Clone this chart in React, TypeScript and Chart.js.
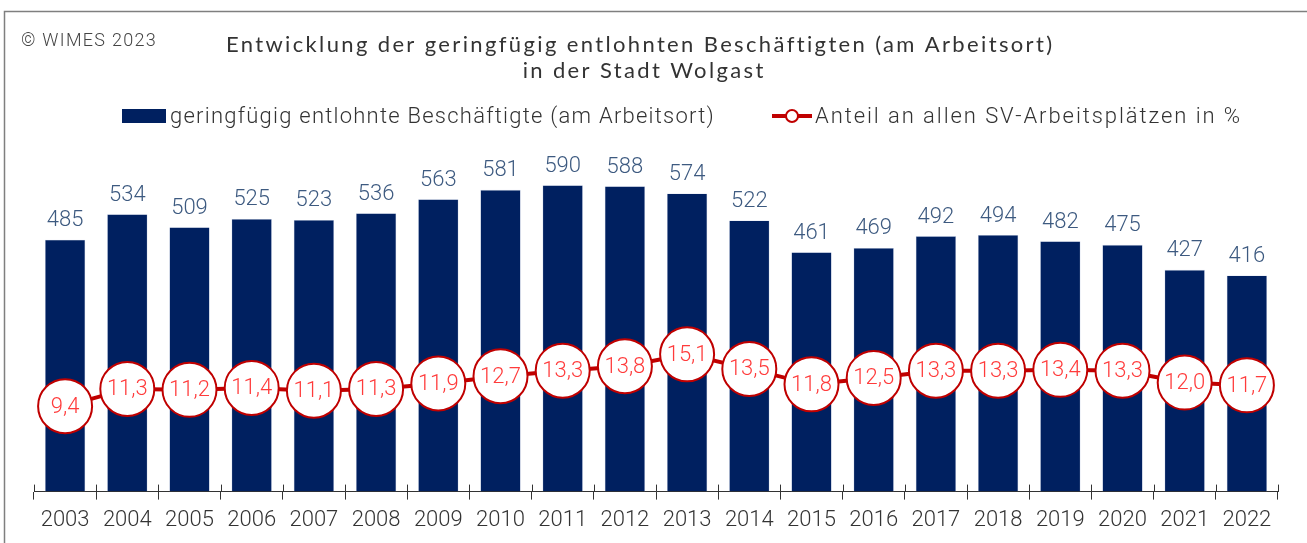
import React, { useEffect, useRef } from "react";
import { Chart, registerables } from "chart.js";

Chart.register(...registerables);

const years = ["2003","2004","2005","2006","2007","2008","2009","2010","2011","2012","2013","2014","2015","2016","2017","2018","2019","2020","2021","2022"];
const employees = [485,534,509,525,523,536,563,581,590,588,574,522,461,469,492,494,482,475,427,416];
const shares = [9.4,11.3,11.2,11.4,11.1,11.3,11.9,12.7,13.3,13.8,15.1,13.5,11.8,12.5,13.3,13.3,13.4,13.3,12.0,11.7];

const titleLines = ["Entwicklung der geringfügig entlohnten Beschäftigten (am Arbeitsort)", "in der Stadt Wolgast"];
const copyright = "© WIMES 2023";
const barLabel = "geringfügig entlohnte Beschäftigte (am Arbeitsort)";
const lineLabel = "Anteil an allen SV-Arbeitsplätzen in %";

const NAVY = "#002060";
const RED = "#c00000";
const TEXT = "#333333";
const LABEL_FONT = "Roboto, 'Noto Sans', sans-serif";
const TITLE_FONT = "Lato, 'Noto Sans', sans-serif";

function spacingFor(ctx: any, text: string, target: number) {
  ctx.letterSpacing = "0px";
  const w = ctx.measureText(text).width;
  return Math.max(-1, (target - w) / text.length);
}

function drawSpaced(ctx: any, text: string, x: number, y: number, sp: number, align: "left" | "center") {
  ctx.letterSpacing = `${sp}px`;
  const w = ctx.measureText(text).width - sp;
  ctx.textAlign = "left";
  const startX = align === "center" ? x - w / 2 : x;
  ctx.fillText(text, startX, y);
  ctx.letterSpacing = "0px";
}

const decoPlugin = {
  id: "deco",
  beforeDraw(chart: any) {
    const ctx = chart.ctx;
    ctx.save();
    ctx.strokeStyle = "#7f7f7f";
    ctx.lineWidth = 1.5;
    ctx.strokeRect(4.5, 11.5, chart.width + 20, chart.height + 20);
    ctx.restore();
  },
  afterDraw(chart: any) {
    const ctx = chart.ctx;
    ctx.save();
    ctx.textBaseline = "middle";
    // copyright
    ctx.fillStyle = "#444444";
    ctx.font = `300 18px ${LABEL_FONT}`;
    drawSpaced(ctx, copyright, 21, 41, spacingFor(ctx, copyright, 136), "left");
    // title
    ctx.fillStyle = TEXT;
    ctx.font = `400 22px ${TITLE_FONT}`;
    const tsp = spacingFor(ctx, titleLines[0], 828);
    drawSpaced(ctx, titleLines[0], 639, 45, tsp, "center");
    drawSpaced(ctx, titleLines[1], 643, 71, tsp, "center");
    // legend
    ctx.fillStyle = NAVY;
    ctx.fillRect(122, 109, 44, 14);
    ctx.fillStyle = TEXT;
    ctx.font = `300 22px ${LABEL_FONT}`;
    drawSpaced(ctx, barLabel, 170, 117, spacingFor(ctx, barLabel, 545), "left");
    ctx.strokeStyle = RED;
    ctx.lineWidth = 4;
    ctx.beginPath();
    ctx.moveTo(772, 116);
    ctx.lineTo(812, 116);
    ctx.stroke();
    ctx.beginPath();
    ctx.arc(792, 116, 6, 0, Math.PI * 2);
    ctx.fillStyle = "#ffffff";
    ctx.fill();
    ctx.lineWidth = 2;
    ctx.stroke();
    ctx.fillStyle = TEXT;
    drawSpaced(ctx, lineLabel, 815, 117, spacingFor(ctx, lineLabel, 427), "left");
    // x-axis tick marks crossing axis
    const area = chart.chartArea;
    ctx.strokeStyle = TEXT;
    ctx.lineWidth = 1;
    const n = years.length;
    for (let i = 0; i <= n; i++) {
      const px = Math.round(area.left + (i * (area.right - area.left)) / n) + 0.5;
      ctx.beginPath();
      ctx.moveTo(px, area.bottom - 7);
      ctx.lineTo(px, area.bottom);
      ctx.stroke();
    }
    ctx.restore();
  },
  afterDatasetsDraw(chart: any) {
    const ctx = chart.ctx;
    ctx.save();
    const barMeta = chart.getDatasetMeta(1);
    ctx.font = `300 22px ${LABEL_FONT}`;
    ctx.fillStyle = "#3d5a80";
    ctx.textAlign = "center";
    ctx.textBaseline = "bottom";
    barMeta.data.forEach((el: any, i: number) => {
      ctx.fillText(String(employees[i]), el.x, el.y - 8);
    });
    const lineMeta = chart.getDatasetMeta(0);
    ctx.fillStyle = "#ff3b3b";
    ctx.textBaseline = "middle";
    lineMeta.data.forEach((el: any, i: number) => {
      ctx.fillText(shares[i].toFixed(1).replace(".", ","), el.x, el.y + 1);
    });
    ctx.restore();
  },
};

export default function App() {
  const ref = useRef<HTMLCanvasElement | null>(null);
  useEffect(() => {
    if (!ref.current) return;
    const chart = new Chart(ref.current, {
      type: "bar",
      data: {
        labels: years,
        datasets: [
          {
            type: "line",
            label: lineLabel,
            data: shares,
            yAxisID: "y2",
            borderColor: RED,
            borderWidth: 4,
            pointRadius: 27,
            pointBorderWidth: 2,
            pointBackgroundColor: "#ffffff",
            pointBorderColor: RED,
            order: 1,
          } as any,
          {
            type: "bar",
            label: barLabel,
            data: employees,
            yAxisID: "y",
            backgroundColor: NAVY,
            borderColor: "#c5d0e6",
            borderWidth: 0.6,
            categoryPercentage: 1,
            barPercentage: 0.65,
            order: 2,
          } as any,
        ],
      },
      options: {
        animation: false,
        responsive: true,
        maintainAspectRatio: false,
        layout: { padding: { top: 128, left: 34, right: 13, bottom: 1 } },
        plugins: {
          legend: { display: false },
          title: { display: false },
          tooltip: { enabled: false },
        },
        scales: {
          x: {
            grid: {
              display: true,
              offset: true,
              drawOnChartArea: false,
              tickLength: 8,
              color: TEXT,
            },
            border: { display: true, color: TEXT, width: 1 },
            ticks: {
              color: TEXT,
              font: { family: LABEL_FONT, size: 22, weight: "300" as any },
              padding: 8,
              maxRotation: 0,
              autoSkip: false,
            },
          },
          y: { display: false, min: 0, max: 700 },
          y2: { display: false, min: 0, max: 40, position: "right" },
        },
      },
      plugins: [decoPlugin],
    });
    return () => chart.destroy();
  }, []);
  return (
    <div style={{ position: "fixed", left: 0, top: 0, width: 1307, height: 543, background: "#ffffff" }}>
      <canvas ref={ref} />
    </div>
  );
}
